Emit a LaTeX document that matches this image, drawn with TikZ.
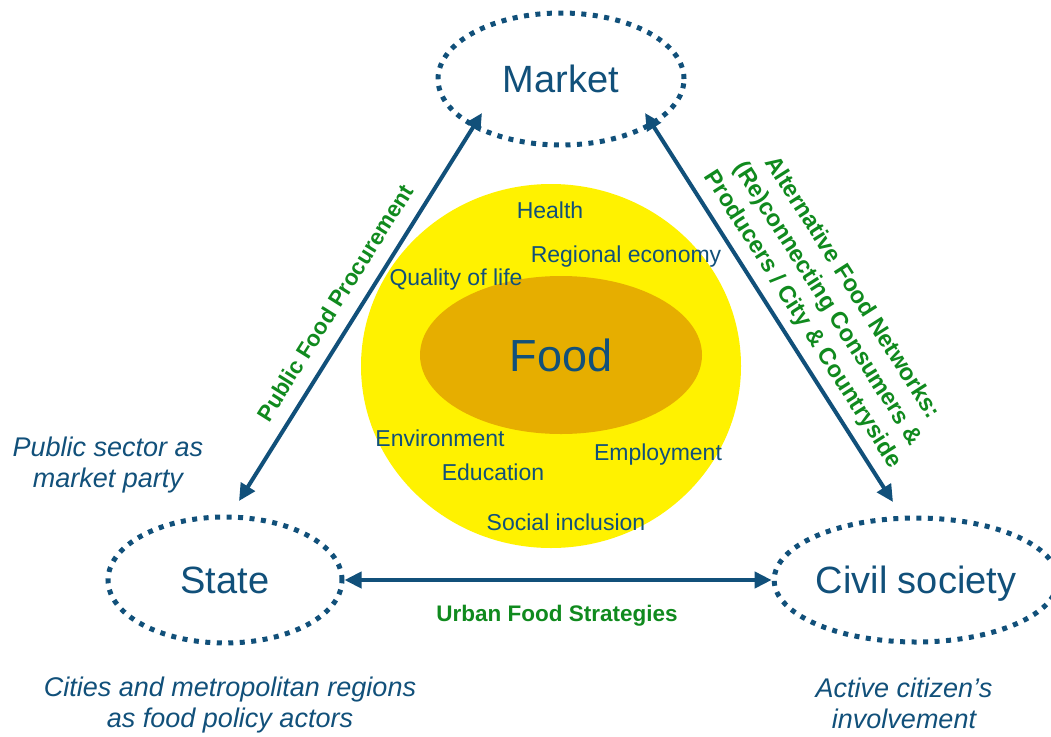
\documentclass[tikz,border=0pt]{standalone}
\usepackage{fontspec}
\setmainfont{Liberation Sans}
\usepackage{xcolor}
\usetikzlibrary{shapes.geometric,arrows.meta}

\definecolor{darkblue}{HTML}{11507A}
\definecolor{leafgreen}{HTML}{108A1E}
\definecolor{foodgold}{HTML}{E6AE00}

\tikzset{
	actor/.style={ellipse, draw=darkblue, line width=5pt, dash pattern=on 5pt off 6.5pt, inner sep=0pt, text=darkblue, font=\fontsize{38}{44}\selectfont},
	theme/.style={text=darkblue, inner sep=0pt, font=\fontsize{23}{27}\selectfont},
	role/.style={text=darkblue, align=center, inner sep=0pt, font=\fontsize{27}{31}\selectfont\itshape},
	route/.style={text=leafgreen, align=center, inner sep=0pt, font=\fontsize{22.5}{29}\selectfont\bfseries},
	link/.style={darkblue, line width=4pt, {Triangle[length=17pt,width=16pt]}-{Triangle[length=17pt,width=16pt]}},
}

\begin{document}
\begin{tikzpicture}[x=1pt, y=-1pt]
	\useasboundingbox (0,0) rectangle (1051,736);

	% food in the middle, themes around it
	\node[ellipse, fill=yellow, inner sep=0pt, minimum width=380, minimum height=364] (field) at (551,366) {};
	\node[ellipse, fill=foodgold, inner sep=0pt, minimum width=282, minimum height=158, text=darkblue, font=\fontsize{45}{50}\selectfont] (food) at (561,355) {Food};

	\node[theme] (health) at (550,210) {Health};
	\node[theme] (regional) at (626,257) {Regional economy};
	\node[theme] (quality) at (456,280) {Quality of life};
	\node[theme] (environment) at (440,438) {Environment};
	\node[theme] (education) at (493,472) {Education};
	\node[theme] (employment) at (658,455) {Employment};
	\node[theme] (inclusion) at (566,522) {Social inclusion};

	% the three actors
	\node[actor, minimum width=246, minimum height=132] (market) at (561,79) {Market};
	\node[actor, minimum width=234, minimum height=126] (state) at (225,580) {State};
	\node[actor, minimum width=266, minimum height=124, text depth=0pt] (civil) at (916,580) {Civil society};

	\node[role] (sectornote) at (108,465) {Public sector as\\market party};
	\node[role] (citynote) at (230,705) {Cities and metropolitan regions\\as food policy actors};
	\node[role] (citizennote) at (904,703) {Active citizen’s\\involvement};

	% arrow ends
	\coordinate (ms) at ([shift={(-79,34)}]market.center);
	\coordinate (mc) at ([shift={(84,34)}]market.center);
	\coordinate (sm) at ([shift={(14,-79)}]state.center);
	\coordinate (cm) at ([shift={(-23,-78)}]civil.center);

	\draw[link] (sm) -- (ms);
	\draw[link] (mc) -- (cm);
	\draw[link] (state.east) -- (civil.west);

	\node[route, rotate=57.9] (procurement) at (335,303) {Public Food Procurement};
	\node[route, rotate=-57.5, font=\fontsize{23.5}{29.5}\selectfont\bfseries] (afn) at (827,304) {Alternative Food Networks:\\(Re)connecting Consumers \&\\Producers / City \& Countryside};
	\node[route] (ufs) at (557,616) {Urban Food Strategies};
\end{tikzpicture}
\end{document}
